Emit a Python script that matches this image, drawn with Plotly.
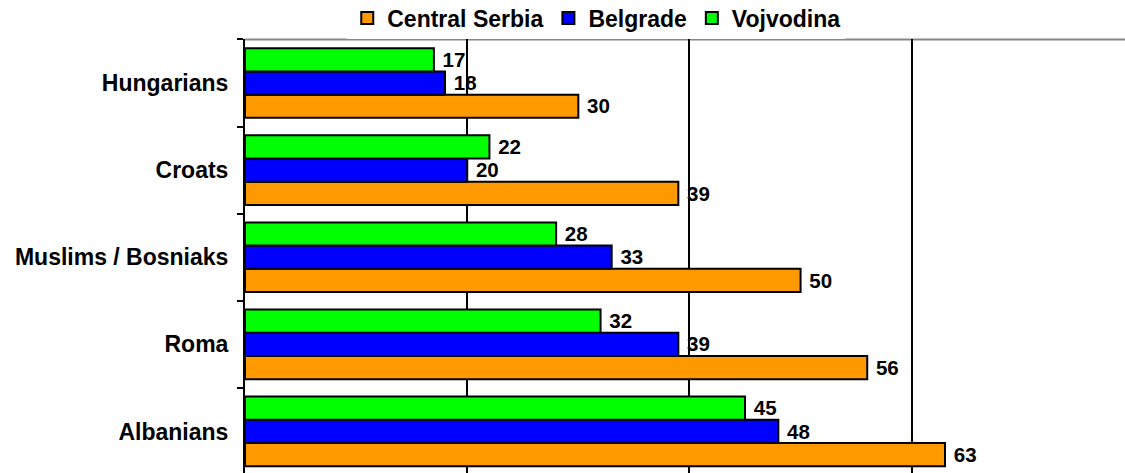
import plotly.graph_objects as go

# categories listed bottom-to-top
categories = ["Albanians", "Roma", "Muslims / Bosniaks", "Croats", "Hungarians"]
central_serbia = [63, 56, 50, 39, 30]
belgrade = [48, 39, 33, 20, 18]
vojvodina = [45, 32, 28, 22, 17]

series = [
    ("Central Serbia", central_serbia, "#FF9900"),
    ("Belgrade", belgrade, "#0000FF"),
    ("Vojvodina", vojvodina, "#00FF00"),
]

FONT = "Arial, 'Liberation Sans', sans-serif"
FS = 23

fig = go.Figure()
for name, vals, color in series:
    fig.add_trace(go.Bar(
        y=categories, x=vals, name=name, orientation="h",
        marker=dict(color=color, line=dict(color="black", width=2)),
        text=vals, textposition="outside",
        texttemplate="\u00a0%{x}",
        textfont=dict(family=FONT, size=FS, color="black", weight="bold"),
        cliponaxis=False,
    ))

fig.update_layout(
    width=1125, height=473,
    margin=dict(l=245, r=0, t=36, b=0),
    paper_bgcolor="white", plot_bgcolor="white",
    barmode="group", bargap=0.2, bargroupgap=0,
    font=dict(family=FONT, size=FS, color="black", weight="bold"),
    showlegend=True,
    legend=dict(
        orientation="h", xref="container", yref="container",
        x=0.53, xanchor="center", y=0.962, yanchor="middle",
        bgcolor="white", font=dict(family=FONT, size=FS, color="black", weight="bold"),
        itemwidth=30, traceorder="normal",
    ),
    xaxis=dict(
        range=[0, 79.2], dtick=20, showgrid=True, gridcolor="black", gridwidth=1.5,
        showticklabels=False, zeroline=False, showline=False, ticks="",
    ),
    yaxis=dict(
        range=[-0.477, 4.5], showline=True, linecolor="black", linewidth=2,
        ticks="outside", tickson="boundaries", ticklen=6, tickwidth=2, tickcolor="black",
        ticklabelstandoff=10, showgrid=False, zeroline=False,
        tickfont=dict(family=FONT, size=FS, color="black", weight="bold"),
    ),
    shapes=[dict(type="line", xref="paper", yref="paper", x0=0, x1=1, y0=1, y1=1,
                 line=dict(color="#888888", width=2), layer="below")],
)

fig.write_html("out.html", config={"displayModeBar": False},
               post_script="document.body.style.margin='0';")
